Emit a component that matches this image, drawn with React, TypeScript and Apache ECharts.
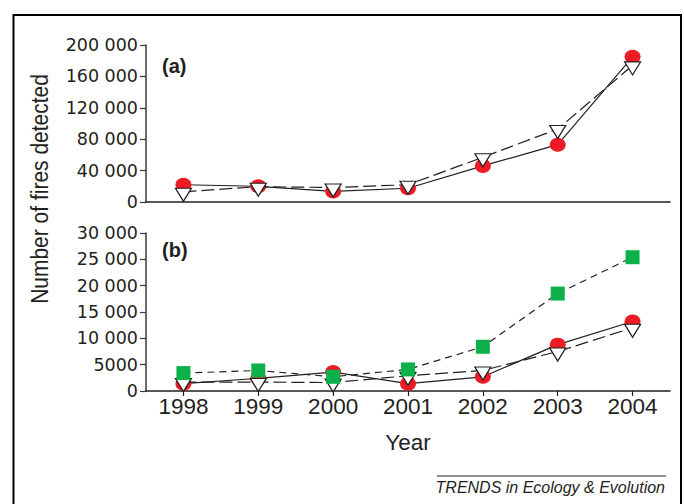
import { useEffect, useRef } from "react";
import * as echarts from "echarts";

const years = ["1998", "1999", "2000", "2001", "2002", "2003", "2004"];
const topCircles = [22000, 20000, 13500, 17500, 46000, 73000, 185000];
const topTriangles = [13000, 19500, 18500, 22000, 57000, 93000, 174000];
const bottomCircles = [1400, 2400, 3600, 1400, 2700, 8800, 13200];
const bottomTriangles = [1700, 1700, 1600, 2900, 3900, 7500, 12000];
const bottomSquares = [3400, 3900, 2700, 4100, 8400, 18500, 25400];
const topTicks = ["0", "40 000", "80 000", "120 000", "160 000", "200 000"];
const bottomTicks = ["0", "5000", "10 000", "15 000", "20 000", "25 000", "30 000"];

const INK = "#231f20";
const RED = "#ed1c24";
const GREEN = "#0db14b";
const TRI = "path://M0,0L16,0L8,13Z";

export default function App() {
  const ref = useRef<HTMLDivElement>(null);
  useEffect(() => {
    if (!ref.current) return;
    const chart = echarts.init(ref.current, undefined, { renderer: "svg" });
    const yLabel = {
      fontFamily: "DejaVu Sans",
      fontSize: 17.5,
      color: INK,
      margin: 8,
    };
    const yCommon = {
      type: "value" as const,
      min: 0,
      splitLine: { show: false },
      axisLine: { show: true, lineStyle: { color: "#3a3a3a", width: 1.5 } },
      axisTick: { show: true, inside: false, length: 6, lineStyle: { color: "#3a3a3a", width: 1.2 } },
    };
    const circleSeries = (data: number[], idx: number) => ({
      type: "line" as const,
      xAxisIndex: idx,
      yAxisIndex: idx,
      data,
      z: 2,
      symbol: "circle",
      symbolSize: [16, 14],
      showAllSymbol: true,
      itemStyle: { color: RED },
      lineStyle: { color: INK, width: 1.2, type: "solid" as const },
      silent: true,
    });
    const triSeries = (data: number[], idx: number) => ({
      type: "line" as const,
      xAxisIndex: idx,
      yAxisIndex: idx,
      data,
      z: 3,
      symbol: TRI,
      symbolSize: [16, 13],
      symbolOffset: [0, 3],
      showAllSymbol: true,
      itemStyle: { color: "#ffffff", borderColor: INK, borderWidth: 1.2 },
      lineStyle: { color: INK, width: 1.2, type: [13, 5] },
      silent: true,
    });
    chart.setOption({
      animation: false,
      backgroundColor: "#ffffff",
      grid: [
        { left: 146, right: 14, top: 45, height: 157 },
        { left: 146, right: 14, top: 233, height: 158 },
      ],
      xAxis: [
        {
          gridIndex: 0,
          type: "category",
          data: years,
          boundaryGap: true,
          axisLine: { lineStyle: { color: INK, width: 1.6 } },
          axisTick: { show: false },
          axisLabel: { show: false },
        },
        {
          gridIndex: 1,
          type: "category",
          data: years,
          boundaryGap: true,
          axisLine: { lineStyle: { color: INK, width: 1.6 } },
          axisTick: { show: true, alignWithLabel: true, length: 5, lineStyle: { color: INK, width: 1.2 } },
          axisLabel: { fontFamily: "Liberation Sans", fontSize: 22.5, color: INK, margin: 4 },
          name: "Year",
          nameLocation: "middle",
          nameGap: 40,
          nameTextStyle: { fontFamily: "Liberation Sans", fontSize: 22.5, color: INK },
        },
      ],
      yAxis: [
        {
          ...yCommon,
          gridIndex: 0,
          max: 200000,
          interval: 40000,
          axisLabel: { ...yLabel, formatter: (v: number) => topTicks[Math.round(v / 40000)] },
        },
        {
          ...yCommon,
          gridIndex: 1,
          max: 30000,
          interval: 5000,
          axisLabel: { ...yLabel, formatter: (v: number) => bottomTicks[Math.round(v / 5000)] },
        },
      ],
      series: [
        circleSeries(topCircles, 0),
        triSeries(topTriangles, 0),
        circleSeries(bottomCircles, 1),
        triSeries(bottomTriangles, 1),
        {
          type: "line",
          xAxisIndex: 1,
          yAxisIndex: 1,
          data: bottomSquares,
          z: 4,
          symbol: "rect",
          symbolSize: 14,
          showAllSymbol: true,
          itemStyle: { color: GREEN },
          lineStyle: { color: INK, width: 1.2, type: [7, 5] },
          silent: true,
        },
      ],
      graphic: [
        {
          type: "rect",
          shape: { x: 13.5, y: 15, width: 667.5, height: 500 },
          style: { fill: "none", stroke: "#000000", lineWidth: 2 },
          silent: true,
        },
        {
          type: "text",
          x: 40,
          y: 189,
          rotation: Math.PI / 2,
          scaleY: 1.15,
          style: {
            text: "Number of fires detected",
            fontFamily: "Liberation Sans",
            fontSize: 21,
            fill: INK,
            textAlign: "center",
            textVerticalAlign: "middle",
          },
        },
        {
          type: "text",
          x: 162,
          y: 66,
          style: {
            text: "(a)",
            fontFamily: "Liberation Sans",
            fontWeight: "bold",
            fontSize: 20,
            fill: INK,
            textAlign: "left",
            textVerticalAlign: "middle",
          },
        },
        {
          type: "text",
          x: 162,
          y: 250,
          style: {
            text: "(b)",
            fontFamily: "Liberation Sans",
            fontWeight: "bold",
            fontSize: 20,
            fill: INK,
            textAlign: "left",
            textVerticalAlign: "middle",
          },
        },
        {
          type: "line",
          shape: { x1: 437, y1: 476, x2: 666, y2: 476 },
          style: { stroke: INK, lineWidth: 1 },
        },
        {
          type: "text",
          x: 665,
          y: 487.5,
          style: {
            text: "TRENDS in Ecology & Evolution",
            fontFamily: "Liberation Sans",
            fontStyle: "italic",
            fontSize: 16,
            fill: INK,
            textAlign: "right",
            textVerticalAlign: "middle",
          },
        },
      ],
    });
    return () => chart.dispose();
  }, []);
  return (
    <div
      ref={ref}
      style={{ position: "fixed", left: 0, top: 0, width: 684, height: 504, background: "#fff" }}
    />
  );
}
